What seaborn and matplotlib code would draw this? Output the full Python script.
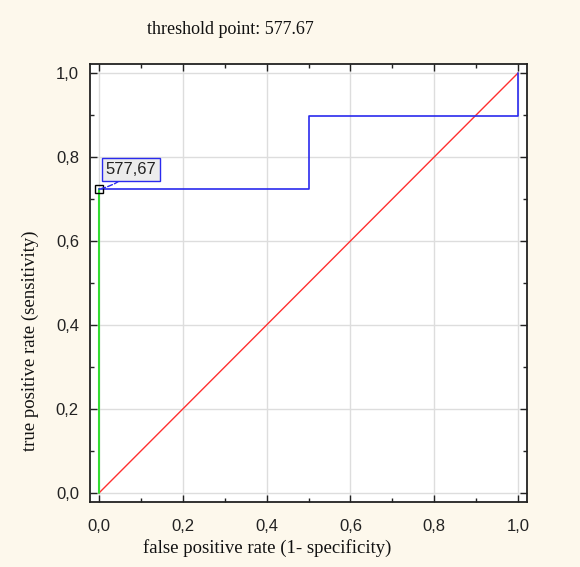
import matplotlib
matplotlib.use("Agg")
import matplotlib.pyplot as plt
import seaborn as sns
import pandas as pd
from matplotlib.ticker import MultipleLocator, FuncFormatter

# data
roc_fpr = [0.0, 0.5, 0.5, 1.0, 1.0]
roc_tpr = [0.724, 0.724, 0.897, 0.897, 1.0]
cut_fpr = [0.0, 0.0]
cut_tpr = [0.0, 0.724]
diag = [0.0, 1.0]
threshold_label = "577,67"
title_text = "threshold point: 577.67"

sns.set_style("white")
bg = "#fdf8ec"
fig = plt.figure(figsize=(5.8, 5.67), dpi=100, facecolor=bg)
ax = fig.add_axes([90/580, 1-502/567, (527-90)/580, (502-64)/567])
ax.set_facecolor("white")

ax.grid(True, which="major", color="#dddddd", lw=1.0)
ax.set_axisbelow(True)

sns.lineplot(x=diag, y=diag, ax=ax, color="#ff3030", lw=1.0, sort=False, estimator=None)
sns.lineplot(x=cut_fpr, y=cut_tpr, ax=ax, color="#33dd33", lw=1.5, sort=False, estimator=None)
sns.lineplot(x=roc_fpr, y=roc_tpr, ax=ax, color="#2a2aee", lw=1.2, sort=False, estimator=None)

ax.plot([cut_fpr[-1]], [cut_tpr[-1]], marker="s", ms=5.5, mfc="none", mec="black", mew=1.0)

ax.annotate(threshold_label, xy=(cut_fpr[-1], cut_tpr[-1]), xytext=(23, 14),
            textcoords="offset points", ha="center", va="center",
            fontsize=12, family="Liberation Sans", color="#222222",
            bbox=dict(boxstyle="square,pad=0.22", fc="#ececec", ec="#2a2aee", lw=1.0),
            arrowprops=dict(arrowstyle="-", ls="--", color="#2a2aee", lw=1.0,
                            shrinkA=0, shrinkB=2, connectionstyle="arc3,rad=-0.2"))

pad = 0.0215
ax.set_xlim(-pad, 1 + pad)
ax.set_ylim(-pad, 1 + pad)
ax.xaxis.set_major_locator(MultipleLocator(0.2))
ax.yaxis.set_major_locator(MultipleLocator(0.2))
ax.xaxis.set_minor_locator(MultipleLocator(0.1))
ax.yaxis.set_minor_locator(MultipleLocator(0.1))
fmt = FuncFormatter(lambda v, p: f"{v:.1f}".replace(".", ","))
ax.xaxis.set_major_formatter(fmt)
ax.yaxis.set_major_formatter(fmt)
ax.tick_params(which="both", direction="in", top=True, right=True, bottom=True, left=True,
               color="#222222")
ax.tick_params(which="major", length=5, width=1.0, labelsize=12, colors="#222222")
ax.tick_params(which="minor", length=3, width=1.0)
for lab in ax.get_xticklabels() + ax.get_yticklabels():
    lab.set_family("Liberation Sans")
ax.tick_params(axis="y", pad=8)
ax.tick_params(axis="x", pad=12)
for s in ax.spines.values():
    s.set_color("#222222")
    s.set_linewidth(1.3)
    s.set_visible(True)
ax.set_xlabel("")
ax.set_ylabel("")

fig.text(230/580, 1-30/567, title_text, ha="center", va="center", fontsize=13,
         family="Liberation Serif", color="#111111")
fig.text(267/580, 1-548/567, "false positive rate (1- specificity)", ha="center", va="center",
         fontsize=13.5, family="Liberation Serif", color="#111111")
fig.text(30/580, 1-341/567, "true positive rate (sensitivity)", ha="center", va="center",
         rotation=90, fontsize=13.5, family="Liberation Serif", color="#111111")

fig.savefig("out.png", dpi=100, facecolor=bg)
